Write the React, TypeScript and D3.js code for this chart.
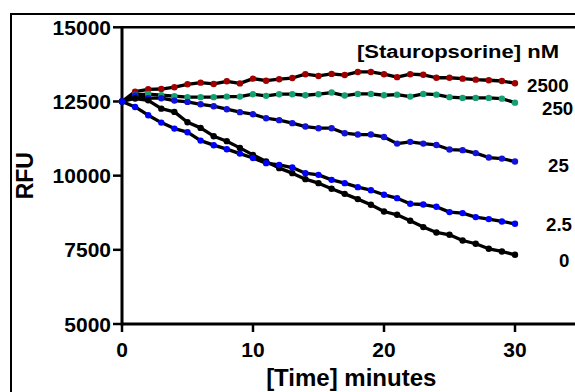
import React from "react";
import * as d3 from "d3";

const time = [0,1,2,3,4,5,6,7,8,9,10,11,12,13,14,15,16,17,18,19,20,21,22,23,24,25,26,27,28,29,30];

const s2500 = [12500,12830,12910,12920,12980,13080,13135,13090,13180,13110,13270,13200,13250,13290,13420,13360,13430,13390,13495,13495,13420,13320,13420,13400,13300,13300,13270,13235,13215,13190,13115];
const s250 = [12500,12720,12750,12710,12680,12645,12645,12645,12665,12665,12745,12690,12745,12745,12710,12745,12800,12700,12755,12755,12710,12730,12665,12755,12730,12645,12620,12620,12620,12595,12460];
const s25 = [12500,12700,12610,12610,12530,12485,12405,12340,12240,12140,12070,11935,11870,11770,11655,11600,11600,11430,11385,11385,11305,11080,11140,11080,11035,10880,10860,10760,10610,10575,10475];
const s2_5 = [12500,12316,12037,11788,11586,11465,11182,11027,10892,10744,10595,10421,10364,10273,10084,10027,9859,9747,9613,9510,9354,9242,9051,9027,8950,8771,8737,8603,8535,8455,8377];
const s0 = [12500,12600,12540,12259,12148,11801,11610,11330,11162,10936,10700,10475,10253,10084,9882,9747,9556,9387,9209,9017,8791,8680,8478,8266,8084,8007,7815,7704,7535,7444,7333];

const seriesNames = ["0","2.5","25","250","2500"];
const seriesValues = [s0, s2_5, s25, s250, s2500];
const seriesColors = ["#000000","#0000ff","#1212d8","#16a072","#a00000"];

const xTicks = [0,10,20,30];
const yTicks = [5000,7500,10000,12500,15000];
const legendTitle = "[Stauropsorine] nM";
const xTitle = "[Time] minutes";
const yTitle = "RFU";

// label placement (pixels) for series labels, in series order
const labelPos: [number, number][] = [[559,267],[546,231],[548,171.5],[542,115],[527,91.5]];

export default function App() {
  const W = 575, H = 392;
  const x = d3.scaleLinear().domain([0, 35]).range([122, 580.5]);
  const y = d3.scaleLinear().domain([5000, 15000]).range([324, 27.3]);
  const font = "'Liberation Sans', Arial, Helvetica, sans-serif";
  const line = d3.line<number>().x((_, i) => x(time[i])).y((d) => y(d));
  const order = [4, 3, 2, 0, 1];
  return (
    <svg width={W} height={H} style={{ position: "absolute", left: 0, top: 0, background: "#fff" }} fontFamily={font} fontWeight="bold">
      <rect x={0} y={0} width={W} height={H} fill="#fff" />
      <rect x={11} y={14} width={W + 20} height={H + 20} fill="none" stroke="#000" strokeWidth={2} />
      <line x1={x(0)} x2={x(35)} y1={y(15000)} y2={y(15000)} stroke="#000" strokeWidth={2.5} />
      <line x1={x(0)} x2={x(35)} y1={y(5000)} y2={y(5000)} stroke="#000" strokeWidth={3} />
      <line x1={x(0)} x2={x(0)} y1={y(5000) + 1.5} y2={y(15000) - 1} stroke="#000" strokeWidth={3} />
      {xTicks.map((t) => (
        <g key={"xt" + t}>
          <line x1={x(t)} x2={x(t)} y1={y(5000)} y2={y(5000) + 8} stroke="#000" strokeWidth={2.5} />
          <text x={x(t)} y={357} textAnchor="middle" fontSize={21}>{t}</text>
        </g>
      ))}
      {yTicks.map((t) => (
        <g key={"yt" + t}>
          <line x1={x(0) - 9} x2={x(0)} y1={y(t)} y2={y(t)} stroke="#000" strokeWidth={2.5} />
          <text x={x(0) - 11} y={y(t)} dy="0.36em" textAnchor="end" fontSize={21}>{t}</text>
        </g>
      ))}
      <text x={(x(0) + x(35)) / 2} y={386} textAnchor="middle" fontSize={24}>{xTitle}</text>
      <text transform={`translate(33,${(y(5000) + y(15000)) / 2}) rotate(-90)`} textAnchor="middle" fontSize={23}>{yTitle}</text>
      {order.map((si) => (
        <g key={"s" + si}>
          <path d={line(seriesValues[si]) || ""} fill="none" stroke="#000" strokeWidth={3.3} strokeLinejoin="round" />
        </g>
      ))}
      {order.map((si) => (
        <g key={"m" + si}>
          {seriesValues[si].map((v, i) => (
            <circle key={i} cx={x(time[i])} cy={y(v)} r={3.2} fill={seriesColors[si]} />
          ))}
        </g>
      ))}
      <text x={357} y={58} fontSize={18} textLength={202} lengthAdjust="spacingAndGlyphs">{legendTitle}</text>
      {seriesNames.map((n, i) => (
        <text key={"l" + n} x={labelPos[i][0]} y={labelPos[i][1]} fontSize={18.7}>{n}</text>
      ))}
    </svg>
  );
}
